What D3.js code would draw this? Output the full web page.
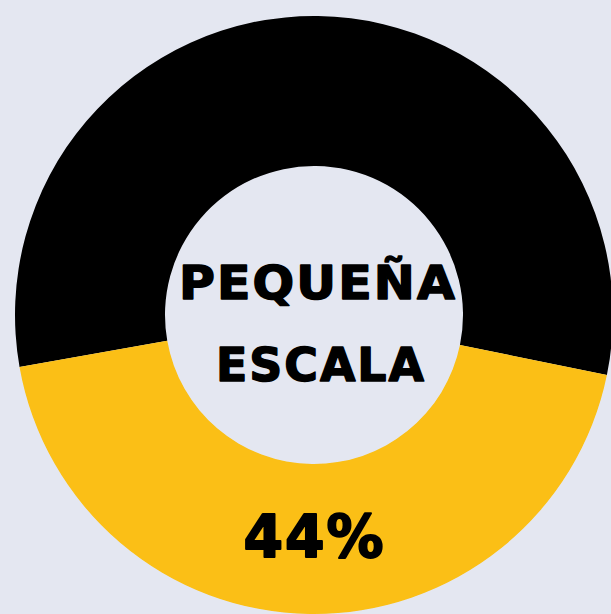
<!DOCTYPE html>
<html>
<head>
<meta charset="utf-8">
<script src="https://cdn.jsdelivr.net/npm/d3@7"></script>
<style>
  html, body { margin: 0; padding: 0; background: #e4e7f1; overflow: hidden; }
</style>
</head>
<body>
<div class="chart"></div>
<script>
// data
const categories = ["Otros", "Pequeña escala"];
const values = [56, 44];
const colors = ["#000000", "#fbbf13"];
const titleLines = ["PEQUEÑA", "ESCALA"];
const valueLabel = "44%";

const width = 611, height = 614;
const cx = 314, cy = 315;
const outerR = 299, innerR = 149;

let svg = d3.select(".chart").append("svg")
  .attr("width", width).attr("height", height);

// soft edges like the photo
svg.append("defs").append("filter").attr("id", "soft")
  .append("feGaussianBlur").attr("stdDeviation", 0.7);

svg.append("rect").attr("width", width).attr("height", height).attr("fill", "#e4e7f1");

let g = svg.append("g").attr("transform", `translate(${cx},${cy})`);

// black first, yellow sits at the bottom
let pie = d3.pie().sort(null)
  .startAngle(-100 * Math.PI / 180)
  .endAngle(260 * Math.PI / 180);

let arc = d3.arc().innerRadius(innerR).outerRadius(outerR);

g.selectAll("path")
  .data(pie(values))
  .enter()
  .append("path")
  .attr("d", arc)
  .attr("fill", (d, i) => colors[i])
  .attr("filter", "url(#soft)");

// centre label, stroked a little to get the heavy weight
let label = g.append("g")
  .attr("font-family", "'DejaVu Sans', sans-serif")
  .attr("font-weight", "bold")
  .attr("fill", "#000")
  .attr("stroke", "#000")
  .attr("stroke-linejoin", "round")
  .attr("letter-spacing", 2)
  .attr("text-anchor", "middle");

label.append("text")
  .attr("x", 4).attr("y", 299 - cy)
  .attr("font-size", 47)
  .attr("stroke-width", 1.5)
  .attr("textLength", 278).attr("lengthAdjust", "spacingAndGlyphs")
  .text(titleLines[0]);

label.append("text")
  .attr("x", 7).attr("y", 381 - cy)
  .attr("font-size", 47)
  .attr("stroke-width", 1.5)
  .attr("textLength", 210).attr("lengthAdjust", "spacingAndGlyphs")
  .text(titleLines[1]);

label.append("text")
  .attr("x", 0.5).attr("y", 557 - cy)
  .attr("font-size", 58)
  .attr("stroke-width", 2)
  .attr("textLength", 142).attr("lengthAdjust", "spacingAndGlyphs")
  .text(valueLabel);
</script>
</body>
</html>
